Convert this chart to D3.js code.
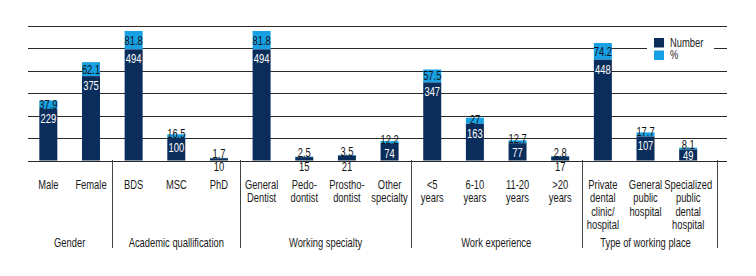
<!DOCTYPE html>
<html>
<head>
<meta charset="utf-8">
<script src="https://cdn.jsdelivr.net/npm/d3@7"></script>
<style>
  html, body { margin: 0; padding: 0; background: #fff; }
  svg text { font-family: "Liberation Sans", Arial, sans-serif; }
</style>
</head>
<body>
<svg id="chart" width="756" height="276"></svg>
<script>
// ---- data ----
const categories = [
  ["Male"], ["Female"],
  ["BDS"], ["MSC"], ["PhD"],
  ["General", "Dentist"], ["Pedo-", "dontist"], ["Prostho-", "dontist"], ["Other", "specialty"],
  ["<5", "years"], ["6-10", "years"], ["11-20", "years"], [">20", "years"],
  ["Private", "dental", "clinic/", "hospital"], ["General", "public", "hospital"], ["Specialized", "public", "dental", "hospital"]
];
const numberValues = [229, 375, 494, 100, 10, 494, 15, 21, 74, 347, 163, 77, 17, 448, 107, 49];
const percentValues = [37.9, 62.1, 81.8, 16.5, 1.7, 81.8, 2.5, 3.5, 12.2, 57.5, 27, 12.7, 2.8, 74.2, 17.7, 8.1];
const percentLabels = ["37.9", "62.1", "81.8", "16.5", "1.7", "81.8", "2.5", "3.5", "12.2", "57.5", "27", "12.7", "2.8", "74.2", "17.7", "8.1"];
const groupNames = ["Gender", "Academic quallification", "Working specialty", "Work experience", "Type of working place"];
const groupSizes = [2, 3, 4, 4, 3];
const yTicks = [100, 200, 300, 400, 500, 600];
const seriesNames = ["Number", "%"];

// ---- styles ----
const navy = "#0b2d5b";
const blue = "#17a0e3";
const FS = 12.5, SX = 0.75;

const svg = d3.select("#chart");
const x = d3.scaleBand().domain(d3.range(categories.length)).range([27, 709.5]).paddingInner(0.578).paddingOuter(0.289);
const y = d3.scaleLinear().domain([0, 600]).range([160.5, 25.5]);
const step = x.step();
const half = (step - x.bandwidth()) / 2;

// condensed text helper
function ctext(g, tx, ty, str, fill, anchor) {
  return g.append("text")
    .attr("transform", `translate(${tx},${ty}) scale(${SX},1)`)
    .attr("x", 0).attr("y", 0)
    .attr("font-size", FS)
    .attr("text-anchor", anchor || "middle")
    .attr("fill", fill)
    .text(str);
}

// gridlines
svg.append("g").selectAll("line").data(yTicks).join("line")
  .attr("x1", 28).attr("x2", 727)
  .attr("y1", d => Math.round(y(d)) + 0.5).attr("y2", d => Math.round(y(d)) + 0.5)
  .attr("stroke", "#2a2a2a").attr("stroke-width", 1);

// legend background (covers gridline)
const lg = svg.append("g").attr("transform", "translate(647,33)");
lg.append("rect").attr("x", 0).attr("y", 0).attr("width", 67).attr("height", 28).attr("fill", "#fff");

// bars
const bars = svg.append("g");
categories.forEach((c, i) => {
  const x0 = x(i), w = x.bandwidth();
  const n = numberValues[i], p = percentValues[i];
  bars.append("rect").attr("x", x0).attr("width", w)
    .attr("y", y(n + p)).attr("height", y(n) - y(n + p)).attr("fill", blue);
  bars.append("rect").attr("x", x0).attr("width", w)
    .attr("y", y(n)).attr("height", y(0) - y(n)).attr("fill", navy);
});

// baseline
svg.append("line").attr("x1", 28).attr("x2", 727)
  .attr("y1", Math.round(y(0)) + 0.5).attr("y2", Math.round(y(0)) + 0.5)
  .attr("stroke", "#2a2a2a").attr("stroke-width", 1);

// value labels
const lab = svg.append("g");
categories.forEach((c, i) => {
  const cx = x(i) + x.bandwidth() / 2;
  const n = numberValues[i], p = percentValues[i];
  const darkTop = y(n), top = y(n + p);
  const pBase = Math.min((top + darkTop) / 2 + 4.5, darkTop);
  ctext(lab, cx, pBase, percentLabels[i], "#111");
  if (y(0) - darkTop < 9) {
    ctext(lab, cx, 171, n, "#111");
  } else {
    ctext(lab, cx, Math.min(darkTop + 14, 159.8), n, "#fff");
  }
});

// category labels
const cl = svg.append("g");
categories.forEach((lines, i) => {
  const cx = x(i) + x.bandwidth() / 2;
  lines.forEach((l, k) => ctext(cl, cx, 189 + k * 13.4, l, "#1a1a1a"));
});

// group separators and labels
let start = 0;
const sep = svg.append("g").attr("stroke", "#444").attr("stroke-width", 1);
const gl = svg.append("g");
groupNames.forEach((g, gi) => {
  const end = start + groupSizes[gi] - 1;
  const cx = (x(start) + x(end) + x.bandwidth()) / 2;
  ctext(gl, cx, 247, g, "#1a1a1a");
  if (gi > 0) {
    const sx = Math.round(x(start) - half) + 0.5;
    sep.append("line").attr("x1", sx).attr("x2", sx).attr("y1", 160).attr("y2", 248);
  }
  start = end + 1;
});
const ex = Math.round(x.range()[1] + 7) + 0.5;
sep.append("line").attr("x1", ex).attr("x2", ex).attr("y1", 160).attr("y2", 248);

// legend
const colors = [navy, blue];
seriesNames.forEach((s, i) => {
  lg.append("rect").attr("x", 7).attr("y", 5 + i * 12.5).attr("width", 10).attr("height", 9.5).attr("fill", colors[i]);
  ctext(lg, 23, 13.5 + i * 12.5, s, "#1a1a1a", "start");
});
</script>
</body>
</html>
